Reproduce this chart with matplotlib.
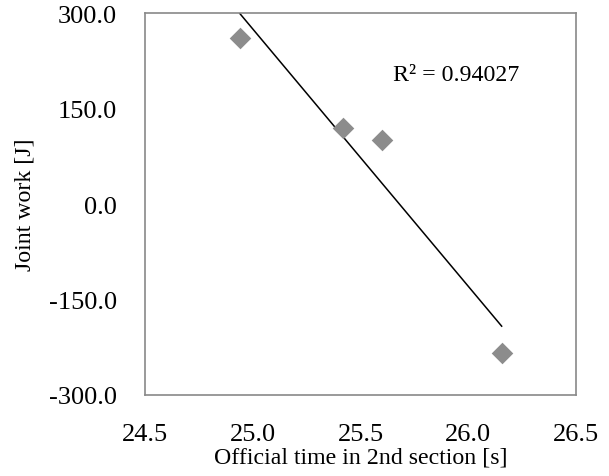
import numpy as np
import matplotlib
matplotlib.use("Agg")
import matplotlib.pyplot as plt

plt.rcParams['font.family'] = ['Liberation Serif', 'DejaVu Serif']

time_s = [24.94, 25.42, 25.60, 26.155]
joint_work = [260.0, 119.0, 100.0, -234.0]
x_ticks = [24.5, 25.0, 25.5, 26.0, 26.5]
y_ticks = [-300.0, -150.0, 0.0, 150.0, 300.0]
r2_text = "R² = 0.94027"

fig = plt.figure(figsize=(6.09, 4.77), dpi=100)
ax = fig.add_axes([145/609, 1-396/477, (576-145)/609, (396-14)/477])

ax.scatter(time_s, joint_work, marker='D', s=11**2, color='#8c8c8c', linewidths=0, zorder=3)

coef = np.polyfit(time_s, joint_work, 1)
xs = np.array([min(time_s), max(time_s)])
ax.plot(xs, np.polyval(coef, xs), color='black', lw=1.1, zorder=2)

ax.set_xlim(24.5, 26.5)
ax.set_ylim(-300, 300)
ax.set_xticks(x_ticks)
ax.set_yticks(y_ticks)
ax.set_xticklabels([f"{v:.1f}" for v in x_ticks])
ax.set_yticklabels([f"{v:.1f}" for v in y_ticks])
ax.tick_params(length=0, labelsize=19)
ax.tick_params(axis='y', pad=20)
ax.tick_params(axis='x', pad=20)
for sp in ax.spines.values():
    sp.set_color('#898989')
    sp.set_linewidth(1.2)

ax.set_xlabel("Official time in 2nd section [s]", fontsize=17.2, labelpad=1)
ax.set_ylabel("Joint work [J]", fontsize=17.2, labelpad=10)
ax.text(0.575, 0.84, r2_text, transform=ax.transAxes, fontsize=17.2, ha='left', va='center')

fig.savefig("out.png", dpi=100)
